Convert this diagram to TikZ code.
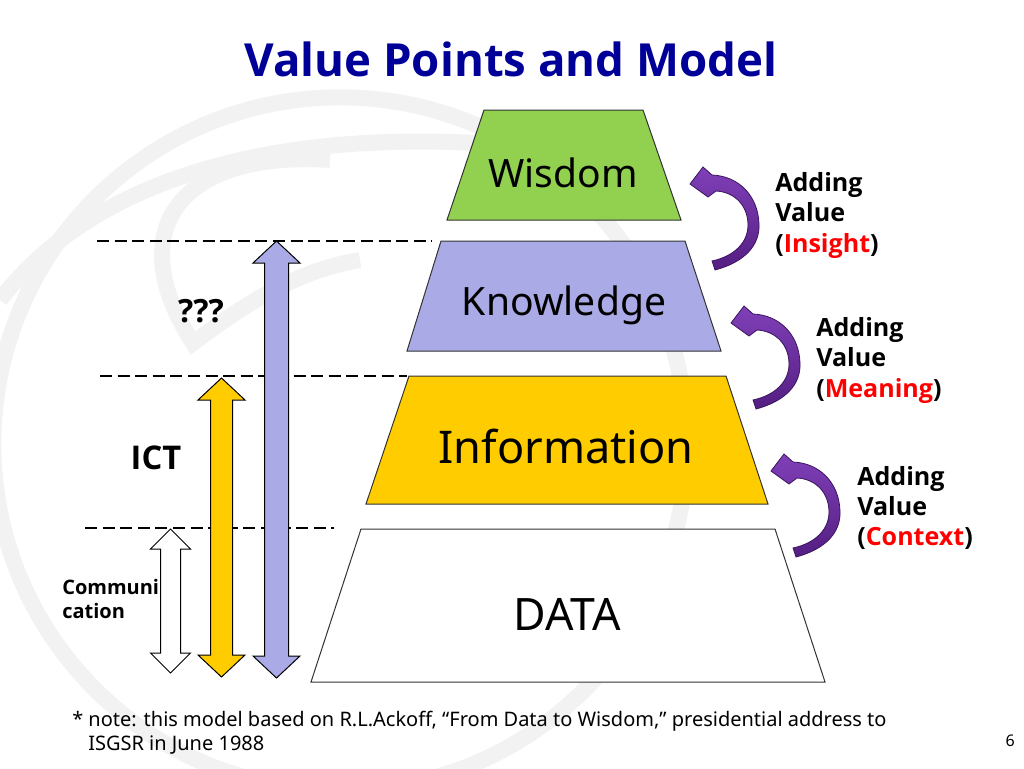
\documentclass[tikz,border=0pt]{standalone}
\usepackage{fontspec}
\setmainfont{Noto Sans}
\newfontfamily\bsans{Open Sans}
\definecolor{wisgreen}{RGB}{146,208,80}
\definecolor{knowlav}{RGB}{170,170,230}
\definecolor{infoyel}{RGB}{255,204,0}
\definecolor{arrtop}{RGB}{128,64,184}
\definecolor{arrbot}{RGB}{84,30,130}
\definecolor{arrdark}{RGB}{60,20,95}
\definecolor{titleblue}{RGB}{0,0,153}
\definecolor{wmgray}{RGB}{242,242,242}
\definecolor{valred}{RGB}{255,0,0}
\newcommand\myVArrow[7]{%
  \draw[dblarrow, fill=#7] (#1,#2) -- ({#1+#5},{#2+#6}) -- ({#1+#4},{#2+#6})
    -- ({#1+#4},{#3-#6}) -- ({#1+#5},{#3-#6}) -- (#1,#3) -- ({#1-#5},{#3-#6})
    -- ({#1-#4},{#3-#6}) -- ({#1-#4},{#2+#6}) -- ({#1-#5},{#2+#6}) -- cycle;}
\newcommand\myCurveArrow[1]{%
  \begin{scope}[shift={#1}]
  \draw[curvearrow] (715,270) .. controls (745,262) and (760,245) .. (759,224)
    .. controls (758,195) and (738,176) .. (712,175) -- (703,167) -- (690,184)
    -- (708,197) -- (716,191) .. controls (735,192) and (748,206) .. (748,225)
    .. controls (748,242) and (735,256) .. (712,261) -- cycle;
  \end{scope}}
\begin{document}
\begin{tikzpicture}[x=0.75pt,y=-0.75pt,
  wm/.style={draw=wmgray, line width=12pt},
  layer/.style={draw=black!80, line width=0.75pt},
  dblarrow/.style={draw=black, line width=0.75pt},
  curvearrow/.style={draw=arrdark, line width=0.6pt, top color=arrtop, bottom color=arrbot},
  dashline/.style={draw=black, line width=2pt, dash pattern=on 9pt off 4.2pt},
  pyrlbl/.style={inner sep=0pt, anchor=base},
  sidelbl/.style={inner sep=0pt, anchor=base west, font=\fontsize{18.8}{22}\selectfont\bsans\bfseries},
]
\useasboundingbox (0,0) rectangle (1024,768);
\fill[white] (0,0) rectangle (1024,768);

% watermark
\draw[wm] (340,444) circle [radius=260pt];
\draw[wm] (0,300) .. controls (100,170) and (300,120) .. (560,150);
\draw[wm] (330,160) .. controls (180,150) and (120,230) .. (193,343)
  .. controls (250,300) and (300,270) .. (360,260);

% title
\node[pyrlbl, font=\fontsize{34.2}{38}\selectfont\bsans\bfseries, text=titleblue] (title) at (511,76) {Value Points and Model};

% pyramid layers
\draw[layer, fill=wisgreen] (484,110) -- (643,110) -- (681,220) -- (447,220) -- cycle;
\draw[layer, fill=knowlav] (441,241) -- (685,241) -- (721,351) -- (407,351) -- cycle;
\draw[layer, fill=infoyel] (409,376) -- (726,376) -- (768,504) -- (366,504) -- cycle;
\draw[layer, fill=white] (361,529) -- (775,529) -- (825,682) -- (311,682) -- cycle;
\node[pyrlbl, font=\fontsize{29.3}{30}\selectfont] (wisdom) at (563,187) {Wisdom};
\node[pyrlbl, font=\fontsize{29.3}{30}\selectfont] (knowledge) at (564,315) {Knowledge};
\node[pyrlbl, font=\fontsize{33.8}{34}\selectfont] (information) at (566,463) {Information};
\node[pyrlbl, font=\fontsize{33.5}{34}\selectfont] (data) at (567,630) {DATA};

% dashed level lines
\coordinate (d1a) at (97,241);  \coordinate (d1b) at (432,241);
\coordinate (d2a) at (100,376); \coordinate (d2b) at (407,376);
\coordinate (d3a) at (85,528);  \coordinate (d3b) at (334,528);
\draw[dashline] (d1a) -- (d1b);
\draw[dashline] (d2a) -- (d2b);
\draw[dashline] (d3a) -- (d3b);

% vertical double arrows
\myVArrow{170.5}{529}{673}{10}{20}{20}{white}
\myVArrow{221.5}{378}{677}{11}{23.5}{22}{infoyel}
\myVArrow{276.5}{241}{678}{12}{23.5}{22}{knowlav}

% left labels
\node[pyrlbl, font=\fontsize{24}{26}\selectfont\bsans\bfseries] (qqq) at (201,322) {???};
\node[pyrlbl, font=\fontsize{24.5}{26}\selectfont\bsans\bfseries] (ict) at (156,469) {ICT};
\node[inner sep=0pt, anchor=base west, font=\fontsize{15}{18}\selectfont\bsans\bfseries] (comm1) at (62,594) {Communi};
\node[inner sep=0pt, anchor=base west, font=\fontsize{15}{18}\selectfont\bsans\bfseries] (comm2) at (62,618) {cation};

% curved arrows
\myCurveArrow{(0,0)}
\myCurveArrow{(41,139)}
\myCurveArrow{(81,287)}

% right labels
\node[sidelbl] (ins1) at (775,191) {Adding};
\node[sidelbl] (ins2) at (775,221.5) {Value};
\node[sidelbl] (ins3) at (775,252) {(\textcolor{valred}{Insight})};
\node[sidelbl] (mea1) at (816,336) {Adding};
\node[sidelbl] (mea2) at (816,366.5) {Value};
\node[sidelbl] (mea3) at (816,397) {(\textcolor{valred}{Meaning})};
\node[sidelbl] (con1) at (857,485) {Adding};
\node[sidelbl] (con2) at (857,515) {Value};
\node[sidelbl] (con3) at (857,545) {(\textcolor{valred}{Context})};

% footnote
\node[inner sep=0pt, anchor=base west, font=\fontsize{15}{18}\selectfont] (note1) at (72,726) {* note: this model based on R.L.Ackoff, “From Data to Wisdom,” presidential address to};
\node[inner sep=0pt, anchor=base west, font=\fontsize{15}{18}\selectfont] (note2) at (88,750) {ISGSR in June 1988};
\node[inner sep=0pt, anchor=base east, font=\fontsize{12}{14}\selectfont] (pagenum) at (1015,746) {6};
\end{tikzpicture}
\end{document}
